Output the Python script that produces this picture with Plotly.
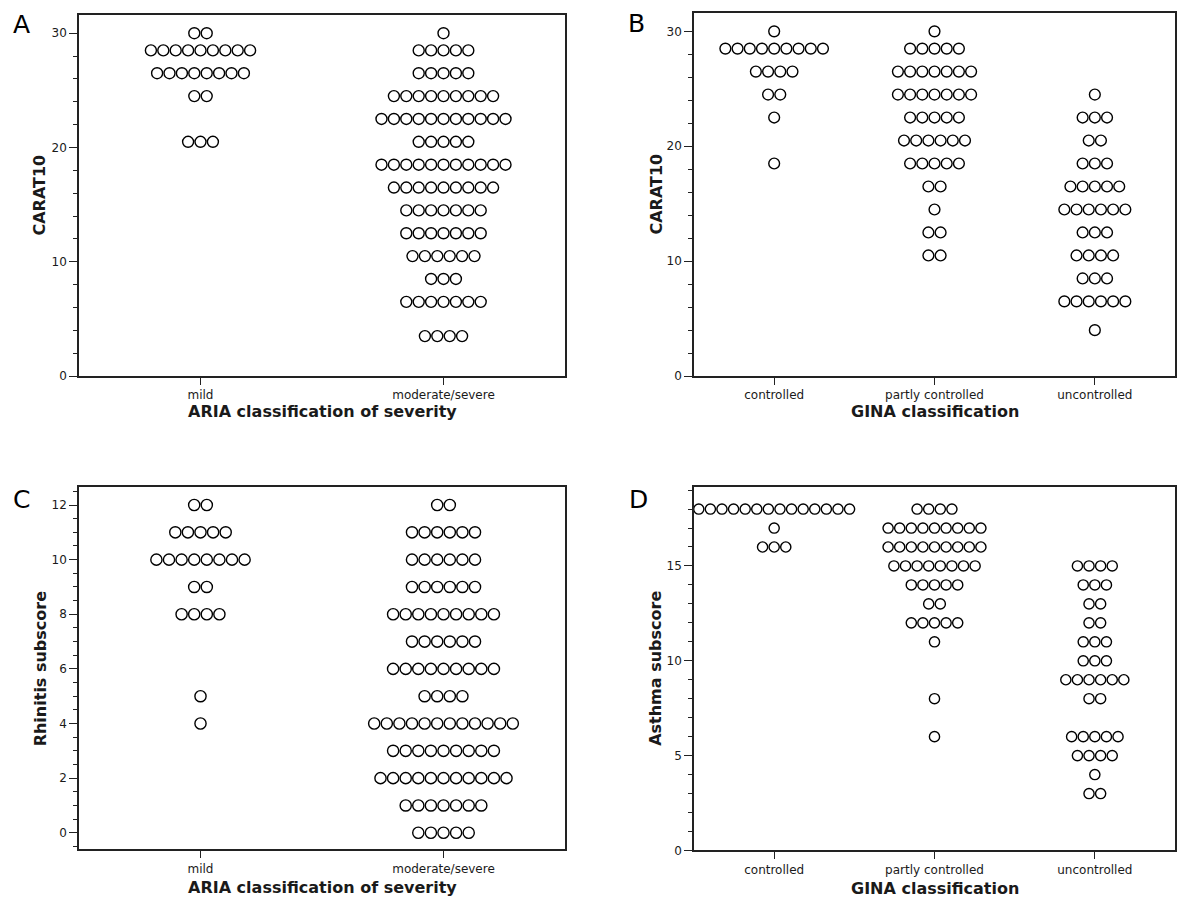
import plotly.graph_objects as go

# ---------------- data ----------------
# Panel A: CARAT10 by ARIA severity (binned dot plot, counts per bin)
A_categories = ["mild", "moderate/severe"]
A_bins = [30, 28.5, 26.5, 24.5, 22.5, 20.5, 18.5, 16.5, 14.5, 12.5, 10.5, 8.5, 6.5, 3.5]
A_mild = [2, 9, 8, 2, 0, 3, 0, 0, 0, 0, 0, 0, 0, 0]
A_modsev = [1, 5, 5, 9, 11, 5, 11, 9, 7, 7, 6, 3, 7, 4]

# Panel B: CARAT10 by GINA classification
B_categories = ["controlled", "partly controlled", "uncontrolled"]
B_bins = [30, 28.5, 26.5, 24.5, 22.5, 20.5, 18.5, 16.5, 14.5, 12.5, 10.5, 8.5, 6.5, 4]
B_controlled = [1, 9, 4, 2, 1, 0, 1, 0, 0, 0, 0, 0, 0, 0]
B_partly = [1, 5, 7, 7, 5, 6, 5, 2, 1, 2, 2, 0, 0, 0]
B_uncontrolled = [0, 0, 0, 1, 3, 2, 3, 5, 6, 3, 4, 3, 6, 1]

# Panel C: Rhinitis subscore by ARIA severity
C_categories = ["mild", "moderate/severe"]
C_bins = [12, 11, 10, 9, 8, 7, 6, 5, 4, 3, 2, 1, 0]
C_mild = [2, 5, 8, 2, 4, 0, 0, 1, 1, 0, 0, 0, 0]
C_modsev = [2, 6, 6, 6, 9, 6, 9, 4, 12, 9, 11, 7, 5]

# Panel D: Asthma subscore by GINA classification
D_categories = ["controlled", "partly controlled", "uncontrolled"]
D_bins = [18, 17, 16, 15, 14, 13, 12, 11, 10, 9, 8, 7, 6, 5, 4, 3]
D_controlled = [14, 1, 3, 0, 0, 0, 0, 0, 0, 0, 0, 0, 0, 0, 0, 0]
D_partly = [4, 9, 9, 8, 5, 2, 5, 1, 0, 0, 1, 0, 1, 0, 0, 0]
D_uncontrolled = [0, 0, 0, 4, 3, 2, 2, 3, 3, 6, 2, 0, 5, 4, 1, 2]

# ---------------- layout constants ----------------
PAGE_W, PAGE_H = 1200, 911
OFF = 8  # default page body margin
W, H = PAGE_W - OFF, PAGE_H - OFF
FONT = "DejaVu Sans"
TXT = "#1a1a1a"

panels = [
    dict(key="A", cats=A_categories, bins=A_bins, groups=[A_mild, A_modsev],
         px=(79, 565), py=(15, 379), yr=[0, 31.6], dtick=10, minor=2,
         xtitle="ARIA classification of severity", ytitle="CARAT10",
         dot=12.4, xt_y=415, yt_x=40, letter_xy=(21, 25)),
    dict(key="B", cats=B_categories, bins=B_bins, groups=[B_controlled, B_partly, B_uncontrolled],
         px=(694, 1175), py=(13, 379), yr=[0, 31.6], dtick=10, minor=2,
         xtitle="GINA classification", ytitle="CARAT10",
         dot=12.2, xt_y=415, yt_x=657, letter_xy=(636, 24)),
    dict(key="C", cats=C_categories, bins=C_bins, groups=[C_mild, C_modsev],
         px=(79, 565), py=(491, 856), yr=[-0.61, 12.65], dtick=2, minor=0.5,
         xtitle="ARIA classification of severity", ytitle="Rhinitis subscore",
         dot=12.6, xt_y=894, yt_x=40, letter_xy=(21, 503)),
    dict(key="D", cats=D_categories, bins=D_bins, groups=[D_controlled, D_partly, D_uncontrolled],
         px=(694, 1175), py=(491, 857), yr=[0, 19.15], dtick=5, minor=1,
         xtitle="GINA classification", ytitle="Asthma subscore",
         dot=11.6, xt_y=895, yt_x=656, letter_xy=(638, 503)),
]


def fx(px):
    return (px - OFF) / W


def fy(py):
    return 1 - (py - OFF) / H


fig = go.Figure()
annotations = []
layout_axes = {}

for i, p in enumerate(panels, start=1):
    xa = "xaxis" if i == 1 else f"xaxis{i}"
    ya = "yaxis" if i == 1 else f"yaxis{i}"
    xref = "x" if i == 1 else f"x{i}"
    yref = "y" if i == 1 else f"y{i}"
    ncat = len(p["cats"])
    xr = [-0.5, ncat - 0.5]
    plot_w = p["px"][1] - p["px"][0]
    unit = (xr[1] - xr[0]) / plot_w  # data units per pixel
    step = p["dot"] * unit

    for gi, counts in enumerate(p["groups"]):
        xs, ys = [], []
        for val, n in zip(p["bins"], counts):
            for k in range(n):
                xs.append(gi + (k - (n - 1) / 2) * step)
                ys.append(val)
        fig.add_trace(go.Scatter(
            x=xs, y=ys, mode="markers", xaxis=xref, yaxis=yref,
            marker=dict(symbol="circle-open", size=p["dot"] - 1.4, color="black",
                        line=dict(width=1.4, color="black")),
            cliponaxis=False, showlegend=False, hoverinfo="skip"))

    layout_axes[xa] = dict(
        domain=[fx(p["px"][0]), fx(p["px"][1])], range=xr, anchor=yref,
        tickmode="array", tickvals=list(range(ncat)), ticktext=p["cats"],
        ticks="outside", ticklen=7, tickwidth=1.3, tickcolor="#222",
        showline=True, linecolor="#222", linewidth=1.6, mirror=True,
        showgrid=False, zeroline=False,
        tickfont=dict(family=FONT, size=12, color=TXT))
    layout_axes[ya] = dict(
        domain=[fy(p["py"][1]), fy(p["py"][0])], range=p["yr"], anchor=xref,
        tick0=0, dtick=p["dtick"],
        ticks="outside", ticklen=8, tickwidth=1.3, tickcolor="#222",
        minor=dict(dtick=p["minor"], tick0=0, ticks="outside", ticklen=4,
                   tickwidth=1.2, tickcolor="#222"),
        showline=True, linecolor="#222", linewidth=1.6, mirror=True,
        showgrid=False, zeroline=False,
        tickfont=dict(family=FONT, size=12, color=TXT))

    cx = (p["px"][0] + p["px"][1]) / 2
    cy = (p["py"][0] + p["py"][1]) / 2
    annotations.append(dict(
        text=f"<b>{p['xtitle']}</b>", xref="paper", yref="paper",
        x=fx(cx), y=fy(p["xt_y"]), xanchor="center", yanchor="middle",
        showarrow=False, font=dict(family=FONT, size=16, color=TXT)))
    annotations.append(dict(
        text=f"<b>{p['ytitle']}</b>", xref="paper", yref="paper",
        x=fx(p["yt_x"]), y=fy(cy), xanchor="center", yanchor="middle",
        textangle=-90, showarrow=False, font=dict(family=FONT, size=16, color=TXT)))
    annotations.append(dict(
        text=p["key"], xref="paper", yref="paper",
        x=fx(p["letter_xy"][0]), y=fy(p["letter_xy"][1]),
        xanchor="center", yanchor="middle", showarrow=False,
        font=dict(family=FONT, size=25, color="#000")))

fig.update_layout(
    width=W, height=H, margin=dict(l=0, r=0, t=0, b=0),
    paper_bgcolor="white", plot_bgcolor="white",
    annotations=annotations, **layout_axes)

fig.write_html("out.html")
